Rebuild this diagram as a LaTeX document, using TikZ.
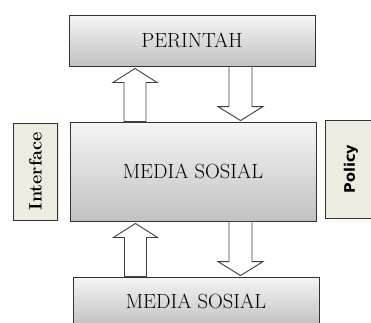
\documentclass[tikz,border=0pt]{standalone}
\usepackage{fontspec}
\usetikzlibrary{shadows}
\usetikzlibrary{calc}
\newfontfamily\policyfont{DejaVu Sans}
\definecolor{boxbeige}{HTML}{EEECE1}
\tikzstyle{graybox}=[rectangle,draw=black!80,line width=0.9pt,top color=gray!8,bottom color=gray!48,minimum width=246pt,inner sep=0pt,font=\fontsize{20.5}{24}\selectfont,drop shadow={shadow xshift=1.3pt,shadow yshift=-1.3pt,opacity=0.3}]
\tikzstyle{sidebox}=[rectangle,draw=black!80,line width=0.9pt,fill=boxbeige,inner sep=0pt,drop shadow={shadow xshift=1pt,shadow yshift=-1pt,opacity=0.2}]
\tikzstyle{blockarrow}=[draw=black!75,line width=0.9pt,fill=white,line join=miter]
% block arrows: x position, tail anchor, tip anchor
\newcommand{\arrowup}[3]{\draw[blockarrow] let \p1=(#1,0 |- #2), \p2=(#1,0 |- #3) in
  (\x1-11pt,\y1) -- (\x1-11pt,\y2-16pt) -- (\x1-22pt,\y2-16pt) -- (\x1,\y2-2pt)
  -- (\x1+22pt,\y2-16pt) -- (\x1+11pt,\y2-16pt) -- (\x1+11pt,\y1) -- cycle;}
\newcommand{\arrowdown}[3]{\draw[blockarrow] let \p1=(#1,0 |- #2), \p2=(#1,0 |- #3) in
  (\x1-11.5pt,\y1) -- (\x1-11.5pt,\y2+15pt) -- (\x1-22.5pt,\y2+15pt) -- (\x1,\y2+1pt)
  -- (\x1+22.5pt,\y2+15pt) -- (\x1+11.5pt,\y2+15pt) -- (\x1+11.5pt,\y1) -- cycle;}
\begin{document}
\begin{tikzpicture}[x=1pt,y=-1pt]
	\useasboundingbox (0,0) rectangle (371,322);

%layers
	\node[graybox,minimum height=51pt] (perintah) at (192,40.5) {PERINTAH};
	\node[graybox,minimum height=99pt] (media) at (193,171.5) {MEDIA SOSIAL};
	\node[graybox,minimum height=48pt] (sosial) at (196,301) {MEDIA SOSIAL};

%sides
	\node[sidebox,minimum width=44pt,minimum height=97pt] (interface) at (35.5,171.5)
		{\rotatebox{90}{\fontsize{18}{20}\selectfont\bfseries Interface}};
	\node[sidebox,minimum width=52pt,minimum height=98pt] (policy) at (351,169)
		{\rotatebox{90}{\policyfont\fontsize{14.5}{16}\selectfont\bfseries Policy}};

%arrows
	\arrowup{135}{media.north}{perintah.south}
	\arrowdown{240.5}{perintah.south}{media.north}
	\arrowup{135.5}{sosial.north}{media.south}
	\arrowdown{240.5}{media.south}{sosial.north}

\end{tikzpicture}
\end{document}
